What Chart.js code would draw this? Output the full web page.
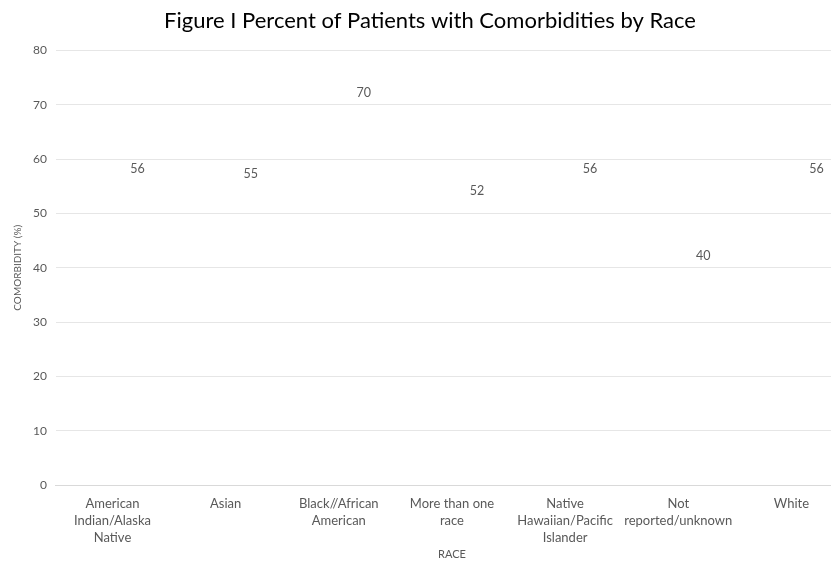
<!DOCTYPE html>
<html>
<head>
<meta charset="utf-8">
<script src="https://cdn.jsdelivr.net/npm/chart.js@4"></script>
<style>
    html, body { margin: 0; padding: 0; background: #fff; overflow: hidden; }
    #wrap { width: 848px; height: 561px; position: relative; }
</style>
</head>
<body>
<div id="wrap"><canvas id="chart"></canvas></div>
<script>
// Valores
const races = [
    ['American', 'Indian/Alaska', 'Native'],
    ['Asian'],
    ['Black//African', 'American'],
    ['More than one', 'race'],
    ['Native', 'Hawaiian/Pacific', 'Islander'],
    ['Not', 'reported/unknown'],
    ['White']
];
const comorbidity = [56, 55, 70, 52, 56, 40, 56];
const yTicks = [0, 10, 20, 30, 40, 50, 60, 70, 80];

const FONT = "Lato, 'Open Sans', sans-serif";
const GREY = '#595959';

// Rótulos de dados (as barras em si não aparecem na figura)
const valueLabels = {
    id: 'valueLabels',
    afterDatasetsDraw(chart) {
        const ctx = chart.ctx;
        const meta = chart.getDatasetMeta(0);
        ctx.save();
        ctx.font = `12.5px ${FONT}`;
        ctx.fillStyle = GREY;
        ctx.textAlign = 'center';
        ctx.textBaseline = 'middle';
        meta.data.forEach((bar, i) => {
            ctx.fillText(comorbidity[i], bar.x + 25, bar.y - 12);
        });
        ctx.restore();
    }
};

new Chart(document.getElementById('chart'), {
    type: 'bar',
    data: {
        labels: races,
        datasets: [{
            label: 'Comorbidity (%)',
            data: comorbidity,
            backgroundColor: 'rgba(0,0,0,0)',
            borderWidth: 0
        }]
    },
    options: {
        responsive: true,
        maintainAspectRatio: false,
        animation: false,
        layout: { padding: { top: 8, left: 12, right: 0, bottom: 0 } },
        plugins: {
            legend: { display: false },
            tooltip: { enabled: false },
            title: {
                display: true,
                text: 'Figure I Percent of Patients with Comorbidities by Race',
                color: '#000',
                font: { family: FONT, size: 22, weight: 'normal' },
                padding: { top: 0, bottom: 16 }
            }
        },
        scales: {
            x: {
                grid: { display: false },
                border: { color: '#d9d9d9' },
                ticks: { color: GREY, font: { family: FONT, size: 13, lineHeight: 1.3 }, maxRotation: 0, autoSkip: false, padding: 2 },
                title: { display: true, text: 'RACE', color: GREY, font: { family: FONT, size: 11 }, padding: { top: 0, bottom: 0 } }
            },
            y: {
                min: 0,
                max: 80,
                afterBuildTicks: axis => { axis.ticks = yTicks.map(v => ({ value: v })); },
                grid: { color: '#e6e6e6', drawTicks: false },
                border: { display: false },
                ticks: { color: GREY, font: { family: FONT, size: 12 }, padding: 9 },
                title: { display: true, text: 'COMORBIDITY (%)', color: GREY, font: { family: FONT, size: 10 }, padding: { top: 0, bottom: 0 } }
            }
        }
    },
    plugins: [valueLabels]
});
</script>
</body>
</html>
